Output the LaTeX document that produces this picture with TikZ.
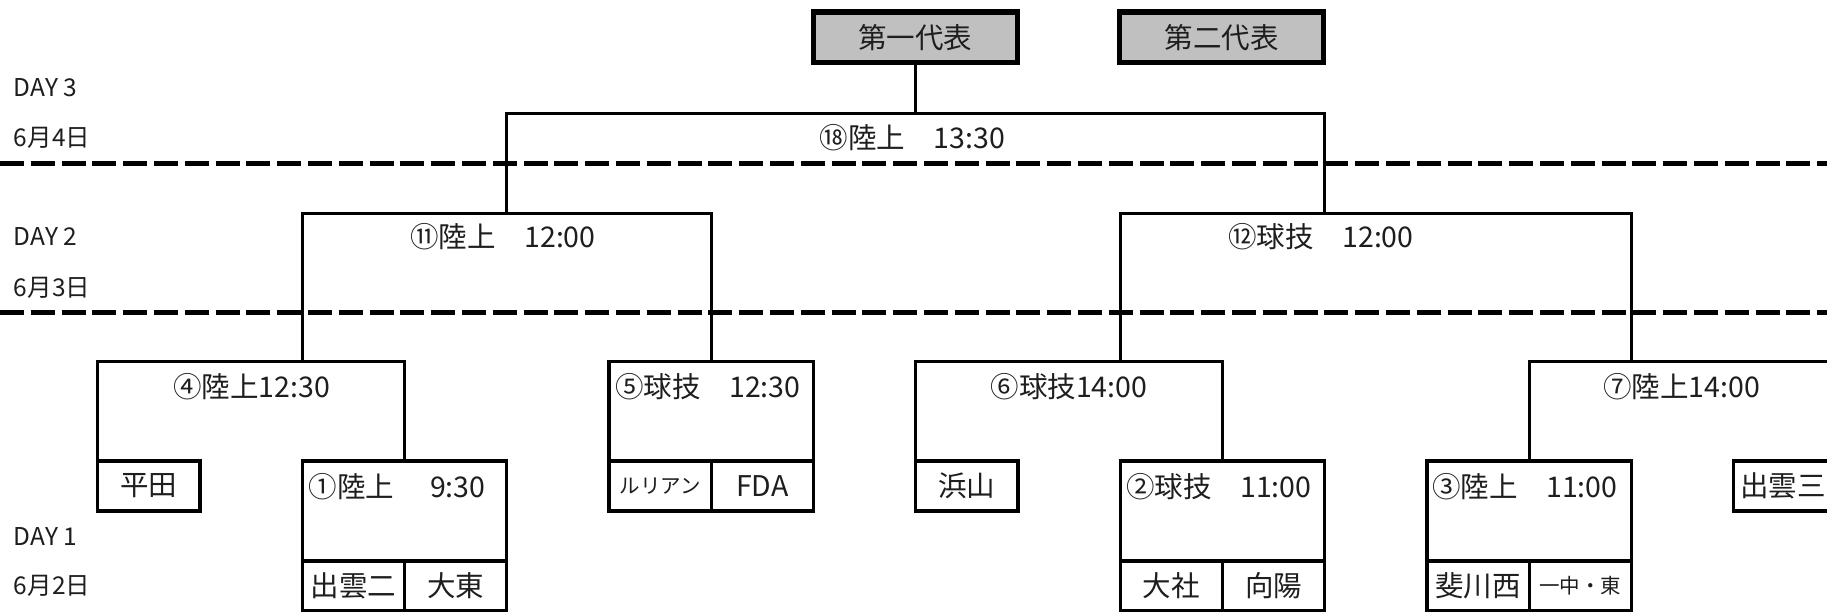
\documentclass[tikz,border=0pt]{standalone}
\usepackage{fontspec}
\setmainfont{Noto Sans CJK JP}
\definecolor{repgray}{RGB}{192,192,192}
\definecolor{txtcol}{RGB}{30,30,30}
\newcommand{\bigtxt}{\fontsize{11.4pt}{13.5pt}\selectfont}
\newcommand{\daytxt}{\fontsize{9.8pt}{11.5pt}\selectfont}
\newcommand{\tinytxt}{\fontsize{8.2pt}{10pt}\selectfont}
\begin{document}
\begin{tikzpicture}[x=0.4pt,y=-0.4pt,
  every node/.style={inner sep=0pt, outer sep=0pt, text=txtcol},
  daydash/.style={line width=2.16pt, dash pattern=on 9.6pt off 2.72pt},
  brk/.style={line width=1.08pt},
  cellbox/.style={draw, line width=1.32pt, minimum width=40.9pt, minimum height=20pt, font=\bigtxt},
  hdrbox/.style={draw, line width=1.32pt, minimum width=81.8pt, minimum height=40pt},
  repbox/.style={draw, line width=2.16pt, fill=repgray, minimum width=81.44pt, minimum height=20.1pt, font=\bigtxt},
  lbl/.style={anchor=base, font=\bigtxt},
  hdr/.style={anchor=base west, font=\bigtxt},
  day/.style={anchor=west, font=\daytxt}]
\useasboundingbox[fill=white] (0,0) rectangle (1827,614);
\clip (0,0) rectangle (1827,614);

% day labels
\node[day] (day3) at (14,88) {DAY 3};
\node[day] (date3) at (14,138) {6月4日};
\node[day] (day2) at (14,237) {DAY 2};
\node[day] (date2) at (14,287.5) {6月3日};
\node[day] (day1) at (14,537) {DAY 1};
\node[day] (date1) at (14,586) {6月2日};

% day separators
\coordinate (sepAL) at (0,163.6);
\coordinate (sepAR) at (1827,163.6);
\coordinate (sepBL) at (0,312.7);
\coordinate (sepBR) at (1827,312.7);
\draw[daydash] (sepAL) -- (sepAR);
\draw[daydash] (sepBL) -- (sepBR);

% representative boxes
\node[repbox] (rep1) at (915.4,37.2) {第一代表};
\node[repbox] (rep2) at (1221.5,37.2) {第二代表};

% first-round boxes
\node[cellbox] (hirata) at (148.8,486) {平田};
\node[hdrbox] (m1h) at (404.45,511) {};
\node[cellbox] (m1a) at (353.3,585.75) {出雲二};
\node[cellbox] (m1b) at (455.6,585.75) {大東};

\node[hdrbox] (m5h) at (711.2,411.7) {};
\node[cellbox, font=\tinytxt] (m5a) at (660.1,486) {ルリアン};
\node[cellbox] (m5b) at (762.3,486) {FDA};

\node[cellbox] (hama) at (966.8,486) {浜山};
\node[hdrbox] (m2h) at (1222.45,511) {};
\node[cellbox] (m2a) at (1171.3,585.75) {大社};
\node[cellbox] (m2b) at (1273.6,585.75) {向陽};

\node[hdrbox] (m3h) at (1529.2,511) {};
\node[cellbox] (m3a) at (1478.1,585.75) {斐川西};
\node[cellbox, font=\tinytxt] (m3b) at (1580.3,585.75) {一中・東};

\node[cellbox] (izumo3) at (1784.8,486) {};
\node[anchor=west, font=\bigtxt] (izumo3t) at (1740,486) {出雲三};

% junctions
\coordinate (j4) at (302.2,361.7);
\coordinate (j6) at (1120.2,361.7);
\coordinate (j7) at (1631.45,361.7);
\coordinate (j11) at (506.7,213.3);
\coordinate (j12) at (1324.7,213.3);
\coordinate (top18) at (rep1.south |- 0,113.3);

% brackets
\draw[brk] (hirata.north west) |- (j4) -| (m1h.north);
\draw[brk] (hama.north west) |- (j6) -| (m2h.north);
\draw[brk] (m3h.north) |- (j7) -| (izumo3.north east);
\draw[brk] (j4) |- (j11) -| (m5h.north);
\draw[brk] (j6) |- (j12) -| (j7);
\draw[brk] (j11) |- (top18) -| (j12);
\draw[brk] (rep1.south) -- (top18);

% header texts inside boxes
\node[hdr] (t1) at (308.5,497) {\makebox[70.8pt][l]{①陸上\hfill 9:30}};
\node[hdr] (t5) at (615,397) {\makebox[74.2pt][l]{⑤球技\hfill 12:30}};
\node[hdr] (t2) at (1126,497) {\makebox[74.2pt][l]{②球技\hfill 11:00}};
\node[hdr] (t3) at (1432,497) {\makebox[74.2pt][l]{③陸上\hfill 11:00}};

% bracket labels
\node[lbl] (l18) at (912.5,148.5) {⑱陸上　13:30};
\node[lbl] (l11) at (503,247) {⑪陸上　12:00};
\node[lbl] (l12) at (1321,247) {⑫球技　12:00};
\node[lbl] (l4) at (251.5,397) {④陸上12:30};
\node[lbl] (l6) at (1069,397) {⑥球技14:00};
\node[lbl] (l7) at (1681.7,397) {⑦陸上14:00};
\end{tikzpicture}
\end{document}
